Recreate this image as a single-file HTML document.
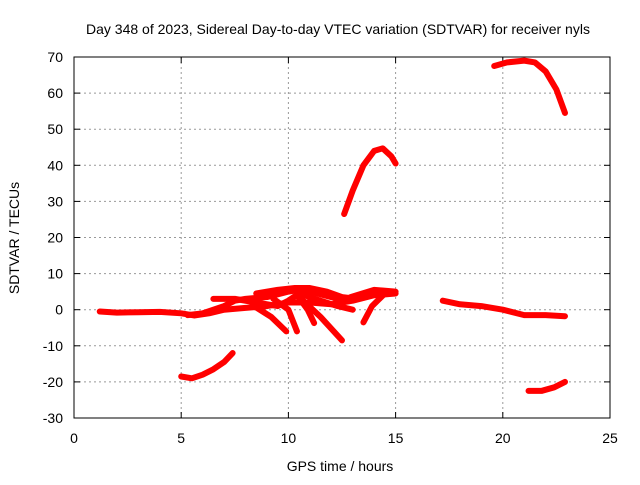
<!DOCTYPE html>
<html><head><meta charset="utf-8"><style>
body{margin:0;background:#fff}
svg text{font-family:"Liberation Sans",sans-serif;font-size:14px;fill:#000}
</style></head><body>
<svg width="640" height="480">
<rect width="640" height="480" fill="#fff"/>
<g id="grid"></g><g id="ticks"></g><g id="series"></g>
<rect x="74" y="57" width="536" height="361" fill="none" stroke="#000" stroke-width="1"/>
<text x="338" y="34" text-anchor="middle">Day 348 of 2023, Sidereal Day-to-day VTEC variation (SDTVAR) for receiver nyls</text>
<text x="340" y="471" text-anchor="middle">GPS time / hours</text>
<text transform="translate(19,238) rotate(-90)" text-anchor="middle">SDTVAR / TECUs</text>
</svg>
<script>
const xTicks=[0,5,10,15,20,25];
const yTicks=[-30,-20,-10,0,10,20,30,40,50,60,70];
const tBase=[[1.2,-0.5],[2,-0.8],[3,-0.7],[4,-0.6],[5,-1],[5.6,-1.6],[6.3,-1],[7,0],[8,0.5],[9,1],[10,2],[11,2],[12,1.5],[13,2.5],[14,4],[15,4.5]];
const tLow=[[5,-18.5],[5.5,-19],[6,-18],[6.5,-16.5],[7,-14.5],[7.4,-12]];
const tHump=[[12.6,26.5],[13,33],[13.5,40],[14,44],[14.4,44.7],[14.8,42.5],[15,40.5]];
const tTop=[[19.6,67.5],[20.2,68.5],[21,69],[21.5,68.5],[22,66],[22.5,61],[22.9,54.5]];
const tRight=[[17.2,2.5],[18,1.5],[19,1],[20,0],[21,-1.5],[22,-1.5],[22.9,-1.8]];
const tRightLow=[[21.2,-22.5],[21.8,-22.5],[22.4,-21.5],[22.9,-20]];
const tArcA=[[5.3,-1.5],[6,-1],[7,1],[7.5,2.5],[8,3],[9,3.5],[10,5],[10.5,5.5],[11,5],[12,3.5],[12.5,2.5]];
const tArcB=[[6.5,3],[7.5,3],[8.5,2],[9.5,1],[10,2.5],[10.5,4.5],[11.5,2.5],[12.3,1],[13,0]];
const tArcC=[[8.5,4.5],[9.5,5.5],[10.3,6],[11,6],[11.8,5],[12.5,3.5],[13.2,3]];
const tDrop1=[[8.4,1],[9.2,-2],[9.9,-6]];
const tDrop2=[[9.3,3],[10,0],[10.4,-6]];
const tDrop3=[[10.4,4],[10.9,0],[11.2,-3.7]];
const tDrop4=[[10.6,3],[11.5,-2],[12.5,-8.5]];
const tDrop5=[[14.5,4.5],[13.9,1],[13.5,-3.5]];
const tDrop6=[[12.9,3.5],[14,5.5],[15,5]];
const tracks=[tBase,tLow,tHump,tTop,tRight,tRightLow,tArcA,tArcB,tArcC,tDrop1,tDrop2,tDrop3,tDrop4,tDrop5,tDrop6];
const X=h=>74+h*536/25, Y=v=>57+(70-v)*361/100;
const NS="http://www.w3.org/2000/svg";
const g=document.getElementById('grid'),tk=document.getElementById('ticks'),s=document.getElementById('series');
function mk(tag,a,p){const e=document.createElementNS(NS,tag);for(const k in a)e.setAttribute(k,a[k]);p.appendChild(e);return e;}
xTicks.forEach(t=>{const x=X(t);
 if(t>0&&t<25){const l=mk('line',{x1:x,x2:x,y1:57,y2:418,stroke:'#999','stroke-dasharray':'2,3'},g);
 
 }
 mk('line',{x1:x,x2:x,y1:418,y2:412,stroke:'#000'},tk);mk('line',{x1:x,x2:x,y1:57,y2:63,stroke:'#000'},tk);
 const tx=mk('text',{x:x,y:443,'text-anchor':'middle'},tk);tx.textContent=t;
 
 });
yTicks.forEach(t=>{const y=Y(t);
 if(t>-30&&t<70){const l=mk('line',{x1:74,x2:610,y1:y,y2:y,stroke:'#999','stroke-dasharray':'2,3'},g);
 
 }
 mk('line',{x1:74,x2:80,y1:y,y2:y,stroke:'#000'},tk);mk('line',{x1:610,x2:604,y1:y,y2:y,stroke:'#000'},tk);
 const tx=mk('text',{x:63,y:y+5,'text-anchor':'end'},tk);tx.textContent=t;
 
 });
tracks.forEach(tr=>{const p=mk('polyline',{points:tr.map(d=>X(d[0])+','+Y(d[1])).join(' '),fill:'none',stroke:'#f00','stroke-width':6,'stroke-linejoin':'round','stroke-linecap':'round'},s);
 
 });
</script>
</body></html>
